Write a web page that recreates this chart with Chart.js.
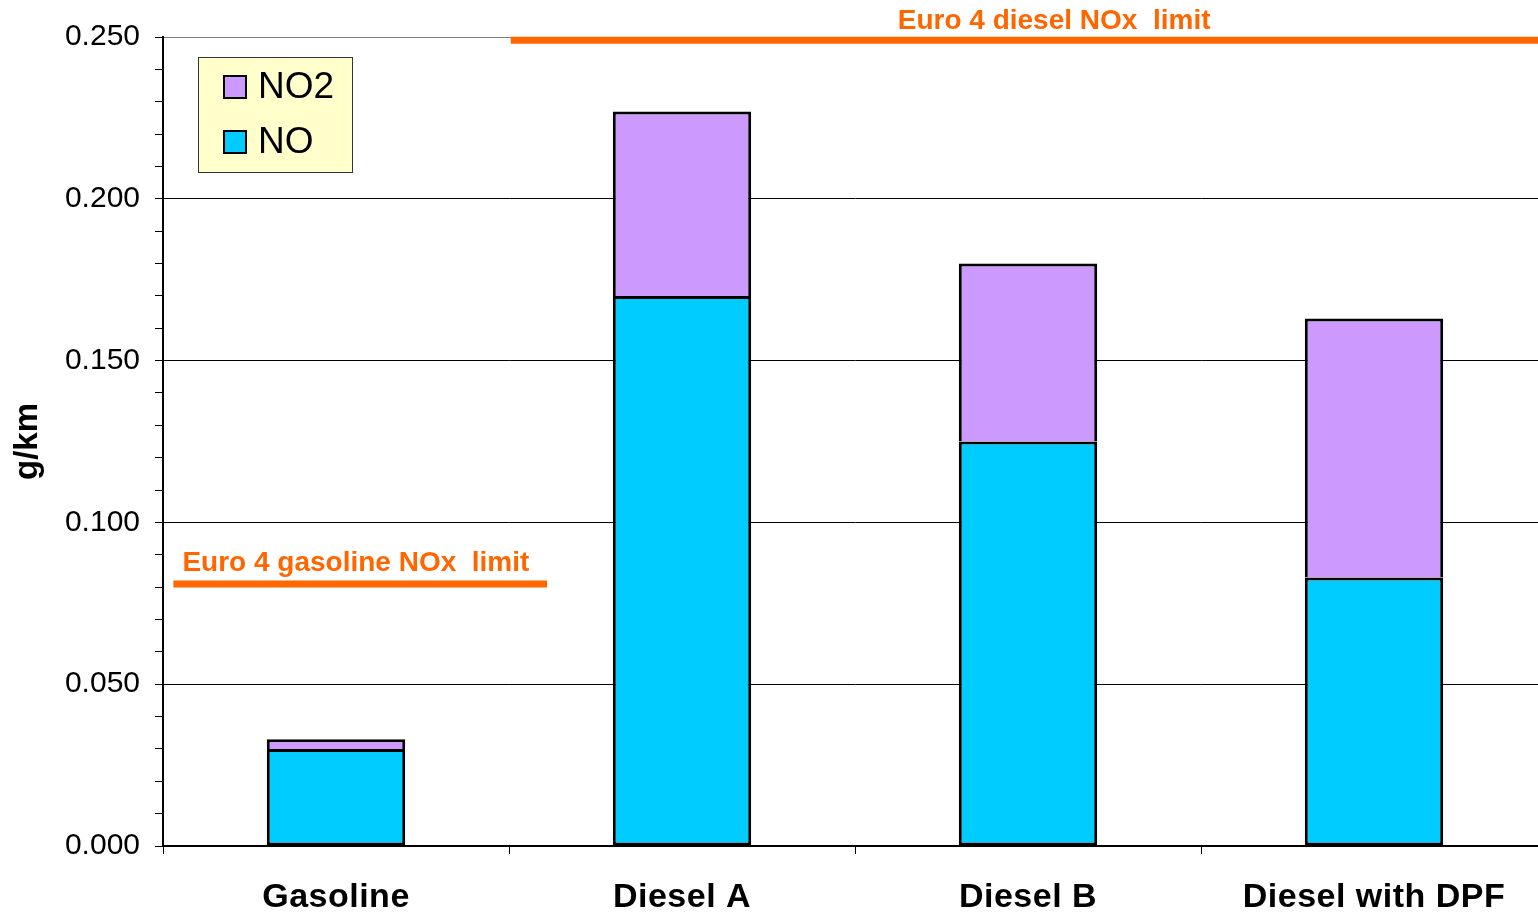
<!DOCTYPE html>
<html>
<head>
<meta charset="utf-8">
<title>NOx emissions by vehicle type</title>
<script src="https://cdn.jsdelivr.net/npm/chart.js@4.4.1/dist/chart.umd.min.js"></script>
<style>
    html, body { margin: 0; padding: 0; background: #fff; overflow: hidden; }
    /* plot runs slightly past the right edge of the window */
    #wrap { width: 1547px; height: 912px; position: relative; }
</style>
</head>
<body>
<div id="wrap"><canvas id="noxChart"></canvas></div>
<script>
// Vehicle categories and measured NOx split (g/km)
const categories = ['Gasoline', 'Diesel A', 'Diesel B', 'Diesel with DPF'];
const noValues = [0.030, 0.170, 0.125, 0.083];
const no2Values = [0.003, 0.057, 0.055, 0.080];
const yTickLabels = ['0.000', '0.050', '0.100', '0.150', '0.200', '0.250'];

// Euro 4 NOx limits
const limitLabels = ['Euro 4 gasoline NOx  limit', 'Euro 4 diesel NOx  limit'];
const limitValues = [0.081, 0.249];

const FONT = "'Liberation Sans', Arial, sans-serif";

const isMajor = v => yTickLabels.includes(v.toFixed(3));

// Orange limit lines with their captions
const limitLines = {
    id: 'limitLines',
    afterDatasetsDraw(chart, args, opts) {
        const { ctx, scales: { x, y } } = chart;
        const x0 = x.getPixelForValue(0);
        const step = x.getPixelForValue(1) - x0;
        ctx.save();
        opts.segments.forEach((seg, i) => {
            const py = y.getPixelForValue(limitValues[i]);
            const from = x0 + seg.from * step;
            const to = Math.min(x0 + seg.to * step, chart.width);
            ctx.strokeStyle = '#FF6600';
            ctx.lineWidth = 7;
            ctx.lineCap = 'butt';
            ctx.beginPath();
            ctx.moveTo(from, py);
            ctx.lineTo(to, py);
            ctx.stroke();

            ctx.fillStyle = '#FF6600';
            ctx.font = 'bold 28px ' + FONT;
            ctx.textAlign = 'left';
            ctx.textBaseline = 'alphabetic';
            ctx.fillText(limitLabels[i], from + seg.labelDx, py + seg.labelDy);
        });
        ctx.restore();
    }
};

// Boxed legend inside the plot, top series first
const boxLegend = {
    id: 'boxLegend',
    afterDraw(chart) {
        const { ctx, chartArea } = chart;
        const bx = chartArea.left + 35, by = chartArea.top + 20;
        ctx.save();
        ctx.fillStyle = '#FFFFCC';
        ctx.fillRect(bx, by, 154, 115);
        ctx.strokeStyle = '#333';
        ctx.lineWidth = 1;
        ctx.strokeRect(bx + 0.5, by + 0.5, 154, 115);

        const items = chart.data.datasets.slice().reverse();
        items.forEach((ds, i) => {
            const cy = by + 30 + i * 55;
            ctx.fillStyle = ds.backgroundColor;
            ctx.fillRect(bx + 26, cy - 11, 22, 22);
            ctx.strokeStyle = '#000';
            ctx.lineWidth = 2;
            ctx.strokeRect(bx + 26, cy - 11, 22, 22);
            ctx.fillStyle = '#000';
            ctx.font = '37px ' + FONT;
            ctx.textBaseline = 'middle';
            ctx.textAlign = 'left';
            ctx.fillText(ds.label, bx + 60, cy + 1);
        });
        ctx.restore();
    }
};

// Bold category names under the axis
const categoryLabels = {
    id: 'categoryLabels',
    afterDraw(chart) {
        const { ctx, scales: { x } } = chart;
        ctx.save();
        ctx.font = 'bold 34px ' + FONT;
        ctx.letterSpacing = '0.5px';
        ctx.fillStyle = '#000';
        ctx.textAlign = 'center';
        ctx.textBaseline = 'middle';
        chart.data.labels.forEach((label, i) => {
            ctx.fillText(label, x.getPixelForValue(i), x.top + 52);
        });
        ctx.restore();
    }
};

new Chart(document.getElementById('noxChart'), {
    type: 'bar',
    data: {
        labels: categories,
        datasets: [
            {
                label: 'NO',
                data: noValues,
                backgroundColor: '#00CCFF',
                borderColor: '#000',
                borderWidth: 3,
                borderSkipped: false
            },
            {
                // bottom edge shares the NO bar's top border
                label: 'NO2',
                data: no2Values,
                backgroundColor: '#CC99FF',
                borderColor: '#000',
                borderWidth: 3,
                borderSkipped: 'start'
            }
        ]
    },
    options: {
        responsive: true,
        maintainAspectRatio: false,
        animation: false,
        barPercentage: 0.4,
        categoryPercentage: 1.0,
        layout: { padding: { top: 37, right: 0, left: 0, bottom: 0 } },
        plugins: {
            legend: { display: false },
            tooltip: { enabled: false },
            limitLines: {
                segments: [
                    { from: -0.47, to: 0.61, labelDx: 9, labelDy: -13 },
                    { from: 0.505, to: 3.6, labelDx: 387, labelDy: -11 }
                ]
            }
        },
        scales: {
            x: {
                stacked: true,
                afterFit: scale => { scale.height = 66; },
                border: { display: true, color: '#000', width: 2 },
                grid: {
                    offset: true,
                    drawOnChartArea: false,
                    drawTicks: true,
                    tickLength: 8,
                    color: '#000',
                    lineWidth: 1
                },
                ticks: { display: false }
            },
            y: {
                stacked: true,
                min: 0,
                max: 0.25,
                afterFit: scale => { scale.width = 163; },
                border: { display: true, color: '#000', width: 2 },
                title: {
                    display: true,
                    text: 'g/km',
                    color: '#000',
                    font: { family: FONT, size: 33, weight: 'bold' },
                    padding: { top: 8, bottom: 0 }
                },
                grid: {
                    drawTicks: true,
                    tickLength: 8,
                    tickColor: '#000',
                    lineWidth: 1,
                    color: ctx => {
                        const v = ctx.tick ? ctx.tick.value : 0;
                        if (v > 0.2499) return '#808080';
                        return isMajor(v) ? '#000' : 'rgba(0,0,0,0)';
                    }
                },
                ticks: {
                    stepSize: 0.01,
                    autoSkip: false,
                    maxTicksLimit: 40,
                    padding: 15,
                    color: '#000',
                    font: { family: FONT, size: 30 },
                    callback: v => isMajor(v) ? v.toFixed(3) : ''
                }
            }
        }
    },
    plugins: [limitLines, boxLegend, categoryLabels]
});
</script>
</body>
</html>
